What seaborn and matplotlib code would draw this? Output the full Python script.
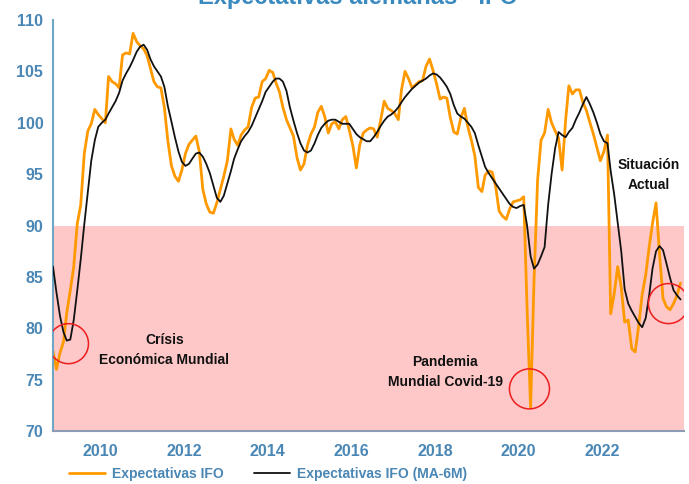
import pandas as pd
import matplotlib.pyplot as plt
import seaborn as sns

# ifo business expectations, monthly, Nov 2008 .. Nov 2023
months = pd.date_range('2008-11-01', '2023-11-01', freq='MS') + pd.Timedelta(days=14)

ifo_exp = [
    77.8, 76.0, 77.6, 78.7, 81.5, 83.7, 86.0, 90.2, 92.0, 97.0, 99.2, 99.9,
    101.3, 100.8, 100.4, 100.0, 104.5, 104.0, 103.8, 103.4, 106.6, 106.8, 106.7, 108.7,
    107.9, 107.5, 107.2, 106.5, 105.3, 104.0, 103.5, 103.4, 101.5, 98.2, 95.8, 94.8,
    94.3, 95.4, 97.0, 97.9, 98.3, 98.7, 97.2, 93.5, 92.1, 91.3, 91.2, 92.2,
    93.5, 94.8, 96.3, 99.4, 98.4, 97.8, 98.8, 99.3, 99.6, 101.5, 102.4, 102.5,
    104.0, 104.3, 105.1, 104.9, 103.9, 103.0, 101.5, 100.3, 99.5, 98.7, 96.6, 95.4,
    96.0, 97.8, 98.9, 99.6, 101.0, 101.6, 100.6, 99.0, 99.9, 100.1, 99.4, 100.3,
    100.6, 99.3, 97.8, 95.6, 97.8, 99.0, 99.3, 99.5, 99.4, 98.6, 100.3, 102.1,
    101.4, 101.2, 100.9, 100.3, 103.2, 105.0, 104.3, 103.4, 103.7, 104.0, 104.1, 105.5,
    106.2, 105.1, 103.8, 102.3, 102.5, 102.4, 100.5, 99.1, 98.9, 100.5, 101.4, 99.6,
    98.3, 96.8, 93.7, 93.3, 94.9, 95.3, 95.2, 93.8, 91.4, 90.9, 90.6, 91.6,
    92.3, 92.4, 92.5, 92.8, 82.0, 72.3, 84.7, 94.4, 98.3, 99.0, 101.3, 100.0,
    99.2, 98.5, 95.4, 100.3, 103.6, 102.8, 103.2, 103.2, 102.0, 101.2, 100.0, 98.9,
    97.6, 96.3, 97.2, 98.8, 81.4, 83.4, 86.0, 84.0, 80.6, 80.8, 78.0, 77.7,
    80.3, 83.3, 85.2, 88.0, 90.2, 92.2, 87.3, 82.9, 82.1, 81.8, 82.4, 83.2,
    84.4,
]

ifo_ma6 = [
    86.0, 83.5, 81.2, 79.6, 78.8, 78.9, 80.8, 83.7, 86.7, 90.1, 93.3, 96.3,
    98.3, 99.6, 100.0, 100.3, 100.9, 101.5, 102.1, 102.9, 104.1, 104.8, 105.4, 106.1,
    106.9, 107.4, 107.6, 107.1, 106.2, 105.5, 105.0, 104.5, 103.5, 101.6, 100.1, 98.6,
    97.2, 96.2, 95.8, 96.0, 96.5, 97.0, 97.1, 96.7, 96.0, 95.1, 93.9, 92.7,
    92.3, 92.9, 94.1, 95.3, 96.5, 97.4, 98.2, 98.7, 99.1, 99.7, 100.5, 101.3,
    102.1, 103.0, 103.5, 104.0, 104.3, 104.3, 104.0, 103.1, 101.5, 100.2, 99.0, 98.0,
    97.3, 97.1, 97.3, 98.0, 98.8, 99.5, 99.9, 100.2, 100.3, 100.3, 100.1, 99.9,
    99.9, 99.9, 99.4, 98.9, 98.6, 98.4, 98.2, 98.2, 98.6, 99.1, 99.7, 100.2,
    100.6, 100.8, 101.1, 101.5, 102.0, 102.5, 102.9, 103.3, 103.6, 103.9, 104.1, 104.3,
    104.6, 104.8, 104.7, 104.4, 104.0, 103.5, 102.8, 101.7, 100.9, 100.6, 100.4, 100.0,
    99.6, 99.0, 97.8, 96.7, 95.7, 95.1, 94.6, 94.1, 93.6, 93.1, 92.6, 92.1,
    91.8, 91.7, 91.9, 92.0, 90.0, 87.0, 85.8, 86.2, 87.0, 87.9, 92.0, 95.0,
    97.5, 99.1, 98.8, 98.6, 99.1, 99.5, 100.3, 101.0, 101.8, 102.5, 101.8, 101.0,
    100.0, 98.9, 98.2, 98.0, 95.3, 93.0, 90.3, 87.5, 83.8, 82.4, 81.7, 81.1,
    80.5, 80.1, 81.0, 83.3, 85.8, 87.5, 88.0, 87.6, 86.3, 84.9, 83.7, 83.2,
    82.8,
]

# annotations: text, date, value
notes = [('Crísis\nEconómica Mundial', '2011-07-15', 77.9),
         ('Pandemia\nMundial Covid-19', '2018-04-01', 75.7),
         ('Situación\nActual', '2023-02-10', 94.9)]
circles = [('2009-03-30', 78.5), ('2020-04-05', 74.1), ('2023-08-01', 82.4)]

df = pd.DataFrame({'date': months, 'exp': ifo_exp, 'ma': ifo_ma6})

sns.set_style("white")
plt.rcParams['font.family'] = ['Liberation Sans', 'DejaVu Sans']

blue = '#4a87b5'
fig = plt.figure(figsize=(6.89, 4.84), dpi=100)
ax = fig.add_axes([53 / 689, 53 / 484, 631 / 689, 411 / 484])

ax.axhspan(70, 90, color='#fec8c8', lw=0, zorder=0)
sns.lineplot(data=df, x='date', y='exp', ax=ax, color='#ff9900', lw=2.0,
             label='Expectativas IFO', zorder=2)
sns.lineplot(data=df, x='date', y='ma', ax=ax, color='#111111', lw=1.3,
             label='Expectativas IFO (MA-6M)', zorder=3)

for d, v in circles:
    ax.scatter(pd.Timestamp(d), v, s=830, facecolors='none', edgecolors='#ee1c1c',
               linewidths=1.1, zorder=4)
for t, d, v in notes:
    ax.text(pd.Timestamp(d), v, t, ha='center', va='center', fontsize=10,
            fontweight='bold', color='#111111', linespacing=1.55, zorder=5)

ax.set_xlim(pd.Timestamp('2008-11-15'), pd.Timestamp('2023-12-15'))
ax.set_ylim(70, 110)
ax.set_yticks(range(70, 111, 5))
ax.set_xticks([pd.Timestamp(f'{y}-01-01') for y in range(2010, 2023, 2)])
ax.set_xticklabels([str(y) for y in range(2010, 2023, 2)])
ax.set_xlabel('')
ax.set_ylabel('')

for s in ['top', 'right']:
    ax.spines[s].set_visible(False)
ax.spines['left'].set_color('#6fa6c6')
ax.spines['left'].set_linewidth(1.5)
ax.spines['bottom'].set_color('#8c9db3')
ax.spines['bottom'].set_linewidth(1.5)
ax.tick_params(axis='y', length=4, width=1.2, color='#6fa6c6', pad=3,
               labelsize=11.5, labelcolor=blue)
ax.tick_params(axis='x', length=4, width=1.2, color='#6fa6c6', pad=5,
               labelsize=11.5, labelcolor=blue)
for lab in ax.get_xticklabels() + ax.get_yticklabels():
    lab.set_fontweight('bold')

leg = ax.legend(loc='center', bbox_to_anchor=(268 / 689, 10 / 484),
                bbox_transform=fig.transFigure, ncol=2, frameon=False,
                fontsize=10, handlelength=2.6, columnspacing=2.2, handletextpad=0.5)
for txt in leg.get_texts():
    txt.set_color(blue)
    txt.set_fontweight('bold')

fig.text(358 / 689, 1 - 4 / 484, 'Expectativas alemanas - IFO', ha='center',
         va='baseline', fontsize=17, fontweight='bold', color='#3a8ac0')

fig.savefig('out.png', dpi=100)
